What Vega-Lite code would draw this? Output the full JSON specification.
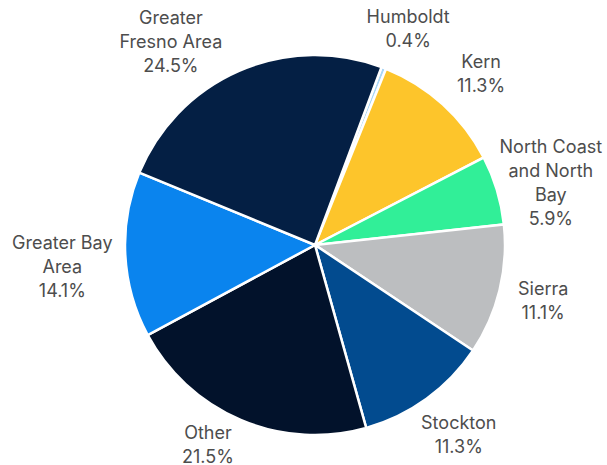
{
  "$schema": "https://vega.github.io/schema/vega-lite/v6.json",
  "autosize": "none",
  "width": 380,
  "height": 380,
  "padding": {"left": 125, "top": 55, "right": 102, "bottom": 30},
  "background": "white",
  "config": {
    "view": {"stroke": null},
    "font": "Inter",
    "text": {"radius": 238, "align": "center", "baseline": "middle", "fontSize": 18, "lineHeight": 24, "lineBreak": "\n", "color": "#4d4d4d"}
  },
  "data": {
    "values": [
      {"idx": 1, "region": "Humboldt", "name": "Humboldt", "pct": 0.4},
      {"idx": 2, "region": "Kern", "name": "Kern", "pct": 11.3},
      {"idx": 3, "region": "North Coast and North Bay", "name": "North Coast\nand North\nBay", "pct": 5.9},
      {"idx": 4, "region": "Sierra", "name": "Sierra", "pct": 11.1},
      {"idx": 5, "region": "Stockton", "name": "Stockton", "pct": 11.3},
      {"idx": 6, "region": "Other", "name": "Other", "pct": 21.5},
      {"idx": 7, "region": "Greater Bay Area", "name": "Greater Bay\nArea", "pct": 14.1},
      {"idx": 8, "region": "Greater Fresno Area", "name": "Greater\nFresno Area", "pct": 24.5}
    ]
  },
  "transform": [
    {"calculate": "datum.name + '\\n' + format(datum.pct, '.1f') + '%'", "as": "label"}
  ],
  "encoding": {
    "theta": {"field": "pct", "type": "quantitative", "stack": true, "scale": {"range": [0.358, 6.641]}},
    "order": {"field": "idx", "type": "quantitative"}
  },
  "layer": [
    {
      "mark": {"type": "arc", "outerRadius": 190, "stroke": "white", "strokeWidth": 2.5},
      "encoding": {
        "color": {
          "field": "region",
          "type": "nominal",
          "legend": null,
          "scale": {
            "domain": ["Humboldt", "Kern", "North Coast and North Bay", "Sierra", "Stockton", "Other", "Greater Bay Area", "Greater Fresno Area"],
            "range": ["#a9d6f5", "#fdc52b", "#31ef98", "#bcbec0", "#024b8f", "#02122b", "#0a84ee", "#041f44"]
          }
        }
      }
    },
    {
      "mark": {"type": "text", "dx": 7, "dy": -5},
      "encoding": {"text": {"condition": {"test": "datum.region == 'Humboldt'", "field": "label"}, "value": ""}}
    },
    {
      "mark": {"type": "text", "dx": 6, "dy": -6},
      "encoding": {"text": {"condition": {"test": "datum.region == 'Kern'", "field": "label"}, "value": ""}}
    },
    {
      "mark": {"type": "text", "dx": 8, "dy": -28},
      "encoding": {"text": {"condition": {"test": "datum.region == 'North Coast and North Bay'", "field": "label"}, "value": ""}}
    },
    {
      "mark": {"type": "text", "dx": -3, "dy": -12},
      "encoding": {"text": {"condition": {"test": "datum.region == 'Sierra'", "field": "label"}, "value": ""}}
    },
    {
      "mark": {"type": "text", "dx": 4, "dy": -14},
      "encoding": {"text": {"condition": {"test": "datum.region == 'Stockton'", "field": "label"}, "value": ""}}
    },
    {
      "mark": {"type": "text", "dx": -14, "dy": -30},
      "encoding": {"text": {"condition": {"test": "datum.region == 'Other'", "field": "label"}, "value": ""}}
    },
    {
      "mark": {"type": "text", "dx": -15, "dy": -13},
      "encoding": {"text": {"condition": {"test": "datum.region == 'Greater Bay Area'", "field": "label"}, "value": ""}}
    },
    {
      "mark": {"type": "text", "dx": -49, "dy": -8},
      "encoding": {"text": {"condition": {"test": "datum.region == 'Greater Fresno Area'", "field": "label"}, "value": ""}}
    }
  ]
}
